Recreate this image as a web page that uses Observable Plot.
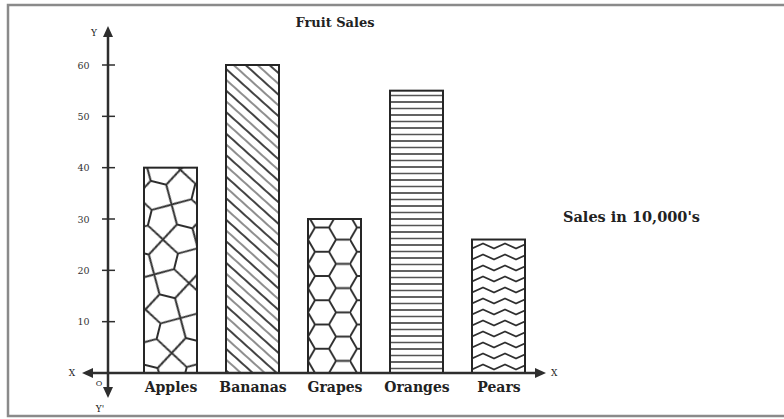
<!DOCTYPE html>
<html>
<head>
<meta charset="utf-8">
<script src="https://cdn.jsdelivr.net/npm/d3@7"></script>
<script src="https://cdn.jsdelivr.net/npm/@observablehq/plot@0.6"></script>
<style>
  html, body { margin: 0; padding: 0; background: #fff; }
  svg { display: block; }
</style>
</head>
<body>
<div id="chart"></div>
<script>
const fruits = ["Apples", "Bananas", "Grapes", "Oranges", "Pears"];
const sales = [40, 60, 30, 55, 26];
const patternNames = ["apples", "bananas", "grapes", "oranges", "pears"];
const yTicks = [10, 20, 30, 40, 50, 60];
const titleText = "Fruit Sales";
const noteText = "Sales in 10,000's";

const data = fruits.map((f, i) => ({fruit: f, sales: sales[i], pat: `url(#pat-${patternNames[i]})`}));

const W = 784, H = 419;
const plot = Plot.plot({
  width: W, height: H,
  marginLeft: 108, marginRight: 223, marginTop: 65, marginBottom: 46,
  style: {fontFamily: "'DejaVu Serif', serif", background: "white", color: "#222"},
  x: {domain: fruits, paddingInner: 29 / 82, paddingOuter: 36 / 82, label: null},
  y: {domain: [0, 60], label: null},
  color: {type: "identity"},
  marks: [
    Plot.barY(data, {x: "fruit", y: "sales", fill: "pat", stroke: "#262626", strokeWidth: 2}),
    Plot.axisX({tickSize: 0, tickPadding: 9, fontSize: 14, fontWeight: "bold", letterSpacing: 0.6}),
    Plot.axisY({ticks: yTicks, tickSize: 0, tickPadding: 19, fontSize: 9.5, fill: "#333"})
  ]
});
document.getElementById("chart").appendChild(plot);

const svg = d3.select(plot);
const xs = plot.scale("x"), ys = plot.scale("y");
const defs = svg.insert("defs", ":first-child");
const ink = "#2e2e2e";

function pat(name, w, h, draw, extra = {}) {
  const i = patternNames.indexOf(name);
  const x0 = xs.apply(fruits[i]);
  const p = defs.append("pattern")
    .attr("id", "pat-" + name)
    .attr("patternUnits", "userSpaceOnUse")
    .attr("width", w).attr("height", h)
    .attr("x", x0).attr("y", ys.apply(0));
  for (const k in extra) p.attr(k, extra[k]);
  p.append("rect").attr("width", w).attr("height", h).attr("fill", "white");
  draw(p);
}

// Apples: stone network (Cairo pentagonal tiling)
pat("apples", 72, 72, p => {
  const L = 36, dd = 8;
  let d = "";
  for (let i = 0; i < 2; i++) for (let j = 0; j < 2; j++) {
    const x = i * L, y = j * L, cx = x + L / 2, cy = y + L / 2;
    if ((i + j) % 2 === 0) {
      const a = [cx - dd, cy], b = [cx + dd, cy];
      d += `M${a}L${b}M${a}L${x},${y}M${a}L${x},${y + L}M${b}L${x + L},${y}M${b}L${x + L},${y + L}`;
    } else {
      const a = [cx, cy - dd], b = [cx, cy + dd];
      d += `M${a}L${b}M${a}L${x},${y}M${a}L${x + L},${y}M${b}L${x},${y + L}M${b}L${x + L},${y + L}`;
    }
  }
  p.append("path").attr("d", d).attr("fill", "none").attr("stroke", ink).attr("stroke-width", 2).attr("stroke-linejoin", "round");
}, {patternTransform: "rotate(14)"});

// Bananas: diagonal "\" lines
pat("bananas", 16, 16, p => {
  p.append("line").attr("x1", 2).attr("y1", 0).attr("x2", 2).attr("y2", 16).attr("stroke", ink).attr("stroke-width", 1.8);
  p.append("line").attr("x1", 10).attr("y1", 0).attr("x2", 10).attr("y2", 16).attr("stroke", "#444").attr("stroke-width", 1.2);
}, {patternTransform: "rotate(-48)"});

// Grapes: honeycomb
const s = 14, hh = Math.sqrt(3) * s;
pat("grapes", 3 * s, hh, p => {
  const d = `M0,${hh/2}L${s/2},0L${1.5*s},0L${2*s},${hh/2}L${1.5*s},${hh}L${s/2},${hh}Z M${2*s},${hh/2}L${3*s},${hh/2}`;
  p.append("path").attr("d", d).attr("fill", "none").attr("stroke", ink).attr("stroke-width", 1.9);
});

// Oranges: horizontal lines
pat("oranges", 53, 13, p => {
  p.append("line").attr("x1", 0).attr("x2", 53).attr("y1", 2).attr("y2", 2).attr("stroke", ink).attr("stroke-width", 1.6);
  p.append("line").attr("x1", 0).attr("x2", 53).attr("y1", 8.5).attr("y2", 8.5).attr("stroke", "#555").attr("stroke-width", 1.3);
});

// Pears: zigzag waves
pat("pears", 22, 11, p => {
  p.append("path").attr("d", "M-22,7.5L-11,2.5L0,7.5L11,2.5L22,7.5L33,2.5L44,7.5")
    .attr("fill", "none").attr("stroke", ink).attr("stroke-width", 1.9).attr("stroke-linejoin", "round");
});

// Decorative axes with arrows
const xL = xs.range[0];
const y0 = ys.apply(0);
const deco = svg.append("g").attr("fill", ink).attr("stroke", ink);
deco.append("line").attr("x1", xL).attr("x2", xL).attr("y1", 32).attr("y2", 392).attr("stroke-width", 2.5);
deco.append("line").attr("x1", 88).attr("x2", 540).attr("y1", y0).attr("y2", y0).attr("stroke-width", 2.5);
deco.append("path").attr("stroke", "none").attr("d", `M${xL},26L${xL-5},37L${xL+5},37Z`);
deco.append("path").attr("stroke", "none").attr("d", `M${xL},398L${xL-5},387L${xL+5},387Z`);
deco.append("path").attr("stroke", "none").attr("d", `M82,${y0}L93,${y0-5}L93,${y0+5}Z`);
deco.append("path").attr("stroke", "none").attr("d", `M546,${y0}L535,${y0-5}L535,${y0+5}Z`);
for (const t of yTicks) {
  deco.append("line").attr("x1", xL - 6).attr("x2", xL + 7).attr("y1", ys.apply(t)).attr("y2", ys.apply(t)).attr("stroke-width", 1.5);
}

const txt = svg.append("g").attr("font-family", "'DejaVu Serif', serif").attr("fill", "#222");
function label(x, y, t, size, anchor = "middle", weight = "normal") {
  txt.append("text").attr("x", x).attr("y", y).attr("font-size", size).attr("text-anchor", anchor).attr("font-weight", weight).text(t);
}
label(72, y0 + 3, "X", 9);
label(551, y0 + 3, "X", 9, "start");
label(94, 36, "Y", 9);
label(99, 386, "O", 8);
label(100, 412, "Y'", 9);
label(335, 27, titleText, 13, "middle", "bold");
label(563, 222, noteText, 14.5, "start", "bold");

// frame
svg.append("path").attr("d", `M${W+5},5H8V416H${W+5}`).attr("fill", "none").attr("stroke", "#8a8a8a").attr("stroke-width", 2.5);
</script>
</body>
</html>
